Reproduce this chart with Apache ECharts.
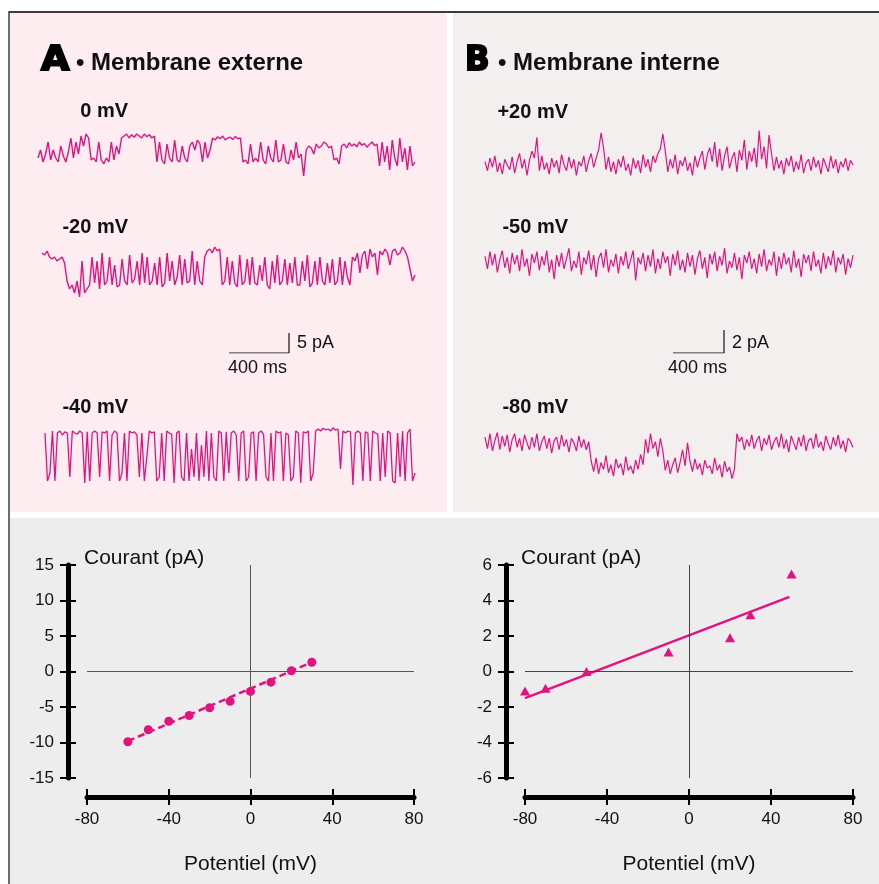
<!DOCTYPE html>
<html><head><meta charset="utf-8">
<script src="https://cdn.jsdelivr.net/npm/echarts@6/dist/echarts.min.js"></script>
<style>html,body{margin:0;padding:0;background:#fff}#c{width:879px;height:884px}</style>
</head><body><div id="c"></div>
<script>
// ---- Single-channel traces (pA) ----
const traceA0 = [1,3,0,2,5,0.5,3,1,0,4,1.5,0,2.5,6,1,5,2,
 6.5,4,7,6,
 0.5,1,0,5,0.5,-0.5,1,0,5,0.5,4,
 2,6,
 6.5,7,6,6.8,6.2,7,6.5,6,7,6.3,6.8,6,6.5,
 0,5,0.5,-0.5,4.5,1,0,5.5,0.5,0,4,1,0,
 4,5,3,5.5,4.5,
 0,5,1,3,
 6,5.5,6.3,5.8,6.5,5.5,6,6.2,5.6,6.4,5.8,6,
 0,0.5,-0.5,4.5,0,1,0,5,0.5,-0.5,4,1,0,5.5,0,0.5,4.5,0,-0.5,3,0.5,5,1,
 2,-3.5,
 3,4,3.5,2,4.5,3.5,4,5,4.5,3.5,4,
 0.5,1,-0.5,
 4,4.5,3.5,4.8,4,4.5,3.8,5,4.2,4.6,3.7,4.4,5,4.1,4.5,
 -1,5,0,4,-2,5.5,1,-1,6,0,3.5,-2,4,-1,0];
const traceA20 = [8,7.5,8.5,7,6.5,7,6,6.5,7,5.5,
 1,-1,0,-2,1,-3,6,-2,-1,
 0,7,0.5,6,-1,8,0,1,7,0,5,-0.5,0,6.5,1,0,7.5,0.5,1.5,6,0,8,0.5,7,0,1,5.5,0,7,-0.5,0.5,8,1,6,0,2,7.5,0,6.5,0.5,1,8.5,0,6,1,0,7,
 8.5,9,8,9.5,8.5,9,
 0,1,7,0,6,0.5,-0.5,7.5,0,1,6.5,0,7,0.5,0,5,1,7,0,-1,6,0.5,7.5,0,1,6.5,0,5.5,0.5,7,0,0,6,1,7.5,-0.5,0.5,6,0,7,1,0,5.5,0.5,6.5,0,1,7,0,6,2,0,7,
 6,8,3,7.5,8.5,4,9,7,8,2.5,8.5,7.5,9,8,5,8.5,9,7.5,8,9.5,8.5,7,
 4,1,2.5];
const traceA40 = [0,-12,-10,0.5,-12,0,0.5,-0.5,0.3,0,
 -11,0.5,0,-0.3,0.5,0,-12.5,0.3,-12,0,
 0.5,0,-11,0.3,0,0.5,-12,-0.5,0.5,0,
 -12,-10,0,-12,0.5,0,0.3,-0.5,-11,0,
 -12,-6,0.5,0,0.3,-12,-11,0,-12,0.5,
 0,-0.3,-12.5,0,0.5,-11,-12,0,-12,-4,
 -11,0,-12,-3,-11,0.5,-12,0,-11,-12,
 0.5,0,-12,0.3,-10,0,0.5,-0.5,-12,0,
 0.5,-12,-11,0,0.3,-12,0,0.5,-0.3,-11,
 -12,0,-12,0.5,0,0.3,-12,0,-0.5,-12,
 -11,0.5,0,-12.5,0.3,0,0.5,-12,-10,0.5,
 1,0.5,1.2,0.8,1,0.5,1.3,0.7,1,-9,
 0.5,0,0.5,0.3,-13,0,0.5,0,-12,0.3,
 0,-12,0.5,0,-0.3,-12,0,-11,0.5,0,
 -12,-12.5,0,-11,0.5,-12,0,1,-12,-10];
const traceB20 = [0.3,-0.5,0.6,-0.2,0.8,-0.6,0.2,-0.8,0.5,0,-0.4,0.7,-0.7,0.3,1,-0.3,0.5,-0.9,0.4,1.2,0.6,
 2.4,
 -0.5,0.8,-0.4,0.2,-0.8,0.6,-0.2,0.4,-0.7,0.9,0,-0.5,0.7,-0.3,0.5,-0.9,0.3,-0.1,0.8,-0.6,0.4,1,-0.2,0.6,1.3,
 2.8,1.5,
 -0.4,0.7,-0.6,0.3,-0.8,0.5,-0.2,0.8,-0.5,0.1,-0.9,0.6,-0.3,0.4,-0.7,0.9,-0.2,0.5,-0.6,0.8,0.2,1,1.4,
 2.7,1.2,
 -0.6,0.5,-0.3,0.9,-0.8,0.4,-0.1,0.7,-0.5,0.2,-0.9,0.8,-0.2,0.6,1.2,-0.4,0.9,1.5,0.3,
 2,
 -0.2,1.4,-0.5,0.8,1.6,-0.3,0.6,1.1,-0.6,1.3,0.4,
 2.2,
 -0.4,1.2,0.3,1.5,-0.2,
 3,
 0.5,1.6,-0.3,
 2.6,1,
 -0.5,0.7,-0.3,0.4,-0.8,0.6,-0.1,0.8,-0.6,0.3,-0.4,0.9,-0.7,0.2,0.5,-0.5,0.7,-0.2,0.4,-0.8,0.6,0,-0.6,0.8,-0.3,0.5,-0.7,0.3,-0.2,0.6,-0.5,0.4,0];
const traceB50 = [0.5,-0.6,0.9,-0.3,0.7,-0.9,0.2,1,-0.5,0.4,-1,0.8,-0.2,0.6,-0.8,1.1,-0.4,0.3,-1.2,0.7,
 -0.1,0.9,-0.7,0.5,-0.3,1,-0.9,0.2,-1.5,0.6,-0.4,0.8,-0.6,0.3,1.2,-0.8,0.1,-0.5,0.9,-1.1,
 0.4,-0.2,1,-0.7,0.6,-1.3,0.3,0.8,-0.5,1.1,-0.9,0.2,-0.4,0.7,-1,0.5,-0.3,0.9,-0.6,0.2,
 1,-1.6,0.4,-0.2,0.8,-0.8,0.6,-0.4,1.1,-1,0.3,-0.6,0.9,-0.1,0.5,-1.2,0.7,-0.3,1,-0.7,
 0.2,-0.9,0.8,-0.4,0.6,-1.1,0.3,1,-0.6,0.4,-1.4,0.7,-0.2,0.9,-0.8,0.5,-0.3,1.2,-1,0.1,
 -0.5,0.8,-0.7,0.4,-1.5,0.6,-0.1,0.9,-0.6,0.3,-1,0.7,-0.4,1.1,-0.8,0.2,-0.3,0.9,-1.2,0.5,
 -0.6,0.8,-0.2,0.4,-0.9,1,-0.5,0.3,-1.3,0.7,-0.1,0.6,-0.8,0.9,-0.4,0.2,-1,0.8,-0.6,0.5,
 -0.3,1,-0.9,0.4,-0.2,0.7,-1.1,0.3,-0.5,0.6];
const traceB80 = [0.6,-0.4,0.9,-0.6,0.3,1,-0.5,0.7,-0.2,0.8,-0.7,0.4,0.9,-0.3,0.5,-0.6,0.8,0.1,-0.5,0.6,
 -0.3,0.9,-0.6,0.2,0.7,-0.4,0.5,-0.8,0.3,0.6,-0.5,0.8,-0.2,0.4,-0.7,0.5,0.1,-0.6,0.7,-0.3,0.4,-0.5,0.2,
 -1.5,-2.4,-1.2,-2.6,-1.6,-2.2,-1,-2.5,-1.8,-2.8,-1.3,-2.1,-1.7,-2.7,-1.1,-2.3,-1.9,-2.6,-1.4,-2.2,-0.9,-1.8,
 0.4,-0.8,0.9,-0.4,0.2,-1.1,0.5,-0.6,
 -2.3,-1.4,-2.6,-1.8,-1.2,-2.5,-1.6,-0.5,-1.9,
 0.1,
 -1.5,-2.4,-1.3,-2.2,-1.7,-2.7,-1.4,-2.1,-1.9,-2.6,-1.2,-2.3,-1.8,-2.9,-1.5,-2.4,-2,-3,-2.2,
 0.9,0.2,0.6,-0.5,0.4,-0.2,0.8,-0.4,0.3,0.7,-0.6,0.5,-0.1,0.8,-0.5,0.2,0.6,-0.3,0.9,-0.4,
 0.4,-0.7,0.7,0.1,-0.5,0.6,-0.2,0.8,-0.6,0.3,0.5,-0.4,0.9,-0.3,0.2,-0.6,0.7,0,-0.5,0.6,
 -0.2,0.8,-0.4,0.3,-0.7,0.5,0.2,-0.3];

// ---- Scale bars ----
const scaleA = {ms: 400, pA: 5};
const scaleB = {ms: 400, pA: 2};

// ---- Current-voltage relations ----
const ivA_V = [-60,-50,-40,-30,-20,-10,0,10,20,30];
const ivA_I = [-9.9,-8.2,-7.0,-6.2,-5.1,-4.2,-2.8,-1.5,0.1,1.3];
const fitA_V = [-60, 30];
const fitA_I = [-9.8, 1.3];
const ivB_V = [-80,-70,-50,-10,20,30,50];
const ivB_I = [-1.1,-0.95,0.0,1.1,1.9,3.2,5.5];
const fitB_V = [-80, 49];
const fitB_I = [-1.5, 4.2];

// ---- Labels ----
const titleA = 'Membrane externe', titleB = 'Membrane interne';
const voltA = ['0 mV','-20 mV','-40 mV'];
const voltB = ['+20 mV','-50 mV','-80 mV'];

const MAG = '#e2137f';
const FONT = 'Liberation Sans';
const TXT = '#111';

const traces = [traceA0, traceA20, traceA40, traceB20, traceB50, traceB80];
const traceGrids = [
  {left:38, top:126, width:377, height:60, min:-6, max:9, lw:1.4},
  {left:42, top:237, width:373, height:72, min:-6, max:12, lw:1.4},
  {left:45, top:417, width:370, height:72, min:-14, max:4, lw:1.3},
  {left:485, top:119, width:368, height:80.5, min:-3, max:4, lw:1.2},
  {left:485, top:227.5, width:368, height:69, min:-3, max:3, lw:1.2},
  {left:485, top:421, width:368, height:69, min:-4, max:2, lw:1.2}
];

const grids = [], xAxes = [], yAxes = [], series = [];
traceGrids.forEach((g, i) => {
  grids.push({left:g.left, top:g.top, width:g.width, height:g.height});
  xAxes.push({type:'category', gridIndex:i, boundaryGap:false, show:false,
    data: traces[i].map((_, k) => k)});
  yAxes.push({type:'value', gridIndex:i, min:g.min, max:g.max, show:false});
  series.push({type:'line', xAxisIndex:i, yAxisIndex:i, data:traces[i], showSymbol:false,
    lineStyle:{color:MAG, width:g.lw}, itemStyle:{color:MAG}, silent:true, z:3});
});

// scale bar grids (6, 7)
[[scaleA,{left:229, top:333, width:60, height:20}],[scaleB,{left:673, top:330, width:51, height:23}]].forEach(([s, g], j) => {
  const gi = 6 + j;
  grids.push(g);
  xAxes.push({type:'value', gridIndex:gi, min:0, max:s.ms, show:false});
  yAxes.push({type:'value', gridIndex:gi, min:0, max:s.pA, show:false});
  series.push({type:'line', xAxisIndex:gi, yAxisIndex:gi, showSymbol:false, silent:true,
    data:[[0,0],[s.ms,0],[s.ms,s.pA]], lineStyle:{color:'#111', width:1.2}});
});

// IV grids (8, 9)
grids.push({left:87, top:565, width:327, height:213});
grids.push({left:525, top:565, width:328, height:213});

function mainX(gi){
  return {type:'value', gridIndex:gi, min:-80, max:80, interval:40, position:'bottom', offset:19,
    axisLine:{show:true, onZero:false, lineStyle:{color:'#000', width:5}},
    axisTick:{show:true, length:8, lineStyle:{color:'#000', width:2}},
    axisLabel:{fontSize:17, color:TXT, margin:14, fontFamily:FONT},
    splitLine:{show:false},
    name:'Potentiel (mV)', nameLocation:'middle', nameGap:57,
    nameTextStyle:{fontSize:21, color:TXT, fontFamily:FONT}};
}
function innerX(gi){
  return {type:'value', gridIndex:gi, min:-80, max:80, interval:40, position:'bottom', offset:19,
    axisLine:{show:false, onZero:false},
    axisTick:{show:true, inside:true, length:8, lineStyle:{color:'#000', width:2}},
    axisLabel:{show:false}, splitLine:{show:false}};
}
function mainY(gi, lim, step, pad){
  return {type:'value', gridIndex:gi, min:-lim, max:lim, interval:step, position:'left', offset:19,
    axisLine:{show:true, onZero:false, lineStyle:{color:'#000', width:5}},
    axisTick:{show:true, length:8, lineStyle:{color:'#000', width:2}},
    axisLabel:{fontSize:17, color:TXT, margin:14, fontFamily:FONT},
    splitLine:{show:false},
    name:'Courant (pA)', nameLocation:'end', nameGap:7,
    nameTextStyle:{fontSize:21, color:TXT, fontFamily:FONT, align:'left', verticalAlign:'middle', padding:[0,0,0,pad]}};
}
function innerY(gi, lim, step){
  return {type:'value', gridIndex:gi, min:-lim, max:lim, interval:step, position:'left', offset:19,
    axisLine:{show:false, onZero:false},
    axisTick:{show:true, inside:true, length:8, lineStyle:{color:'#000', width:2}},
    axisLabel:{show:false}, splitLine:{show:false}};
}
xAxes.push(mainX(8), mainX(9), innerX(8), innerX(9));
yAxes.push(mainY(8, 15, 5, 16), mainY(9, 6, 2, 15), innerY(8, 15, 5), innerY(9, 6, 2));

function cross(color){
  return {silent:true, symbol:'none', label:{show:false}, animation:false,
    lineStyle:{color:color, width:1, type:'solid'}, emphasis:{disabled:true},
    data:[{yAxis:0},{xAxis:0}]};
}
series.push({type:'scatter', xAxisIndex:8, yAxisIndex:8, symbol:'circle', symbolSize:9,
  data: ivA_V.map((v, k) => [v, ivA_I[k]]), itemStyle:{color:MAG, opacity:1}, z:5,
  markLine: cross('#555')});
series.push({type:'line', xAxisIndex:8, yAxisIndex:8, showSymbol:false,
  data: fitA_V.map((v, k) => [v, fitA_I[k]]),
  lineStyle:{color:MAG, width:2.5, type:[7,4]}, z:4});
series.push({type:'scatter', xAxisIndex:9, yAxisIndex:9, symbol:'triangle', symbolSize:[10,9],
  data: ivB_V.map((v, k) => [v, ivB_I[k]]), itemStyle:{color:MAG, opacity:1}, z:5,
  markLine: cross('#444')});
series.push({type:'line', xAxisIndex:9, yAxisIndex:9, showSymbol:false,
  data: fitB_V.map((v, k) => [v, fitB_I[k]]),
  lineStyle:{color:MAG, width:2.5}, z:4});

function txt(x, y, text, size, weight, align, extra){
  return Object.assign({type:'text', x:x, y:y, z:10, silent:true,
    style:{text:text, fontSize:size, fontWeight:weight, fontFamily:FONT, fill:TXT,
      align:align||'left', verticalAlign:'middle'}}, extra||{});
}
function bigLetter(x, letter, sx){
  return {type:'text', x:x, y:61, z:10, silent:true, scaleX:sx,
    style:{text:letter, fontSize:34, fontWeight:'bold', fontFamily:'DejaVu Sans', fill:'#000',
      stroke:'#000', lineWidth:2, lineJoin:'round', align:'left', verticalAlign:'middle'}};
}
const graphic = [
  {type:'rect', z:-10, silent:true, shape:{x:10, y:13, width:437, height:499}, style:{fill:'#fdedf0'}},
  {type:'rect', z:-10, silent:true, shape:{x:453, y:13, width:426, height:499}, style:{fill:'#f4efef'}},
  {type:'rect', z:-10, silent:true, shape:{x:10, y:518, width:869, height:366}, style:{fill:'#ededed'}},
  {type:'line', z:-5, silent:true, shape:{x1:9, y1:12, x2:879, y2:12}, style:{stroke:'#3c3c3c', lineWidth:2}},
  {type:'line', z:-5, silent:true, shape:{x1:9, y1:11, x2:9, y2:884}, style:{stroke:'#3c3c3c', lineWidth:1.5}},
  bigLetter(41, 'A', 1.08),
  bigLetter(465, 'B', 0.95),
  txt(76, 63.5, '\u2022 ' + titleA, 24, 'bold'),
  txt(498, 63.5, '\u2022 ' + titleB, 24, 'bold'),
  txt(128, 111.5, voltA[0], 20, 'bold', 'right'),
  txt(128, 227, voltA[1], 20, 'bold', 'right'),
  txt(128, 407, voltA[2], 20, 'bold', 'right'),
  txt(568, 112.5, voltB[0], 20, 'bold', 'right'),
  txt(568, 227, voltB[1], 20, 'bold', 'right'),
  txt(568, 407, voltB[2], 20, 'bold', 'right'),
  txt(297, 343.5, scaleA.pA + ' pA', 18, 'normal'),
  txt(228, 368.5, scaleA.ms + ' ms', 18, 'normal'),
  txt(732, 343.5, scaleB.pA + ' pA', 18, 'normal'),
  txt(668, 368.5, scaleB.ms + ' ms', 18, 'normal')
];

const chart = echarts.init(document.getElementById('c'), null, {renderer:'canvas'});
chart.setOption({
  animation:false,
  backgroundColor:'#ffffff',
  grid:grids, xAxis:xAxes, yAxis:yAxes, series:series, graphic:graphic
});
</script></body></html>
